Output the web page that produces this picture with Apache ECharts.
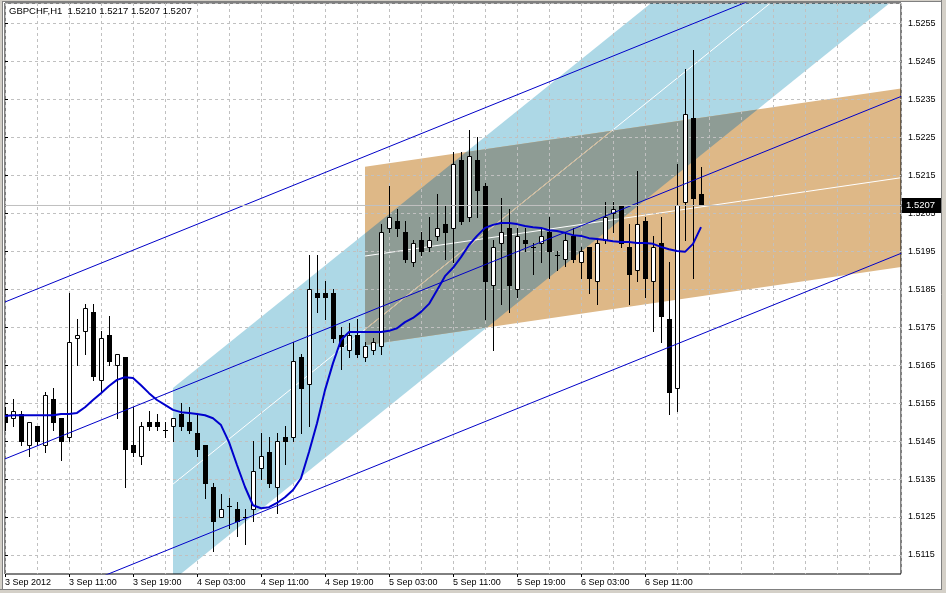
<!DOCTYPE html>
<html>
<head>
<meta charset="utf-8">
<script src="https://cdn.jsdelivr.net/npm/echarts@6.0.0/dist/echarts.min.js"></script>
<style>
html,body{margin:0;padding:0;background:#fff;}
#c{width:946px;height:593px;}
</style>
</head>
<body>
<div id="c"></div>
<script>
// ---- data ----
const symbol = 'GBPCHF';
const timeframe = 'H1';
const tickBars = [0, 8, 16, 24, 32, 40, 48, 56, 64, 72, 80];
const tickLabels = ['3 Sep 2012', '3 Sep 11:00', '3 Sep 19:00', '4 Sep 03:00', '4 Sep 11:00', '4 Sep 19:00',
  '5 Sep 03:00', '5 Sep 11:00', '5 Sep 19:00', '6 Sep 03:00', '6 Sep 11:00'];
const priceLevels = [1.5115, 1.5125, 1.5135, 1.5145, 1.5155, 1.5165, 1.5175, 1.5185, 1.5195, 1.5205,
  1.5215, 1.5225, 1.5235, 1.5245, 1.5255];

const open = [1.5152,1.5151,1.5152,1.5144,1.5149,1.5144,1.5156,1.5151,1.5146,1.5172,
  1.5174,1.5179,1.5161,1.5173,1.5165,1.5167,1.5144,1.5141,1.5150,1.5150,
  1.5148,1.5149,1.5152,1.5150,1.5147,1.5144,1.5133,1.5125,1.5128,1.5127,
  1.5125,1.5127,1.5138,1.5142,1.5133,1.5146,1.5146,1.5167,1.5160,1.5184,
  1.5184,1.5184,1.5173,1.5169,1.5173,1.5167,1.5169,1.5170,1.5201,1.5203,
  1.5200,1.5192,1.5198,1.5196,1.5199,1.5202,1.5201,1.5219,1.5204,1.5219,
  1.5212,1.5186,1.5197,1.5201,1.5185,1.5198,1.5196,1.5197,1.5200,1.5194,
  1.5193,1.5199,1.5192,1.5196,1.5187,1.5198,1.5205,1.5207,1.5196,1.5190,
  1.5203,1.5187,1.5197,1.5177,1.5159,1.5208,1.5230,1.5210];
const high = [1.5154,1.5156,1.5153,1.5150,1.5149,1.5158,1.5159,1.5151,1.5184,1.5177,
  1.5181,1.5181,1.5174,1.5178,1.5168,1.5167,1.5154,1.5150,1.5153,1.5152,
  1.5150,1.5151,1.5155,1.5154,1.5152,1.5144,1.5134,1.5131,1.5130,1.5129,
  1.5127,1.5145,1.5147,1.5146,1.5147,1.5149,1.5171,1.5168,1.5194,1.5194,
  1.5187,1.5185,1.5175,1.5176,1.5177,1.5171,1.5172,1.5202,1.5212,1.5206,
  1.5203,1.5198,1.5200,1.5204,1.5210,1.5207,1.5221,1.5221,1.5227,1.5225,
  1.5213,1.5198,1.5209,1.5206,1.5201,1.5201,1.5197,1.5201,1.5204,1.5195,
  1.5200,1.5201,1.5196,1.5196,1.5198,1.5208,1.5208,1.5207,1.5202,1.5216,
  1.5204,1.5199,1.5204,1.5192,1.5218,1.5243,1.5248,1.5217];
const low = [1.5148,1.5149,1.5144,1.5141,1.5144,1.5142,1.5148,1.5140,1.5145,1.5165,
  1.5168,1.5161,1.5158,1.5165,1.5151,1.5133,1.5141,1.5139,1.5148,1.5148,
  1.5146,1.5145,1.5148,1.5147,1.5141,1.5130,1.5116,1.5125,1.5122,1.5120,
  1.5118,1.5124,1.5135,1.5133,1.5126,1.5139,1.5145,1.5147,1.5149,1.5179,
  1.5177,1.5171,1.5164,1.5167,1.5167,1.5166,1.5168,1.5168,1.5200,1.5199,
  1.5192,1.5191,1.5194,1.5195,1.5198,1.5193,1.5192,1.5202,1.5203,1.5204,
  1.5177,1.5169,1.5181,1.5179,1.5183,1.5195,1.5189,1.5192,1.5188,1.5190,
  1.5191,1.5192,1.5188,1.5184,1.5181,1.5197,1.5200,1.5196,1.5181,1.5187,
  1.5183,1.5174,1.5171,1.5152,1.5153,1.5198,1.5188,1.5207];
const close = [1.5150,1.5153,1.5145,1.5150,1.5145,1.5157,1.5150,1.5145,1.5171,1.5173,
  1.5180,1.5162,1.5172,1.5166,1.5168,1.5143,1.5142,1.5149,1.5149,1.5149,
  1.5148,1.5151,1.5149,1.5148,1.5143,1.5134,1.5124,1.5127,1.5128,1.5124,
  1.5125,1.5137,1.5141,1.5134,1.5145,1.5145,1.5166,1.5159,1.5185,1.5183,
  1.5183,1.5172,1.5170,1.5173,1.5168,1.5170,1.5171,1.5200,1.5204,1.5201,
  1.5193,1.5197,1.5195,1.5198,1.5201,1.5200,1.5218,1.5203,1.5220,1.5211,
  1.5187,1.5196,1.5200,1.5186,1.5199,1.5197,1.5196,1.5199,1.5195,1.5194,
  1.5198,1.5193,1.5195,1.5188,1.5197,1.5204,1.5206,1.5197,1.5189,1.5202,
  1.5188,1.5196,1.5178,1.5158,1.5207,1.5231,1.5209,1.5207];
const maLine = [1.51516,1.51518,1.51518,1.51518,1.51518,1.51518,1.51518,1.51521,1.51521,1.51524,
  1.51539,1.51558,1.51576,1.51595,1.51611,1.51618,1.51616,1.51597,1.51576,1.51558,
  1.51545,1.51532,1.51526,1.51524,1.51521,1.51518,1.51510,1.51492,1.51447,1.51387,
  1.51329,1.51281,1.51273,1.51276,1.51287,1.51302,1.51321,1.51352,1.51421,1.51497,
  1.51584,1.51655,1.51716,1.51737,1.51737,1.51737,1.51737,1.51737,1.51740,1.51747,
  1.51763,1.51774,1.51790,1.51811,1.51847,1.51884,1.51906,1.51934,1.51966,1.51990,
  1.52011,1.52019,1.52024,1.52024,1.52021,1.52016,1.52013,1.52011,1.52005,1.52003,
  1.51998,1.51992,1.51990,1.51984,1.51982,1.51979,1.51976,1.51974,1.51974,1.51971,
  1.51971,1.51969,1.51961,1.51955,1.51950,1.51948,1.51969,1.52013];

// channel objects: bars (start, end), mid prices at those bars, half width in price
const lineChannelBars = [0, 112];
const lineChannelMid = [1.51403, 1.52357];
const lineChannelOffset = 0.00413;
const blueBandBars = [21, 112];
const blueBandMid = [1.513366, 1.528796];
const blueBandHalf = 0.002528;
const orangeBandBars = [45, 112];
const orangeBandMid = [1.519370, 1.521431];
const orangeBandHalf = 0.002349;

const yMin = 1.5110, yMax = 1.52603;
const xMin = 0, xMax = 112;

// ---- helpers ----
function fmt(v) { return v.toFixed(4); }
function orient(poly) {
  let a = 0;
  for (let i = 0; i < poly.length; i++) {
    const p = poly[i], q = poly[(i + 1) % poly.length];
    a += p[0] * q[1] - q[0] * p[1];
  }
  return a > 0 ? 1 : -1;
}
function clipPoly(subject, clip) {
  const s = orient(clip);
  let out = subject.slice();
  for (let i = 0; i < clip.length && out.length; i++) {
    const A = clip[i], B = clip[(i + 1) % clip.length];
    const f = p => s * ((B[0] - A[0]) * (p[1] - A[1]) - (B[1] - A[1]) * (p[0] - A[0]));
    const inp = out; out = [];
    for (let j = 0; j < inp.length; j++) {
      const P = inp[j], Q = inp[(j + 1) % inp.length];
      const fp = f(P), fq = f(Q);
      if (fp >= 0) {
        out.push(P);
        if (fq < 0) { const t = fp / (fp - fq); out.push([P[0] + t * (Q[0] - P[0]), P[1] + t * (Q[1] - P[1])]); }
      } else if (fq >= 0) {
        const t = fp / (fp - fq); out.push([P[0] + t * (Q[0] - P[0]), P[1] + t * (Q[1] - P[1])]);
      }
    }
  }
  return out;
}
function clipSeg(P, Q, clip) {
  const s = orient(clip);
  let t0 = 0, t1 = 1;
  for (let i = 0; i < clip.length; i++) {
    const A = clip[i], B = clip[(i + 1) % clip.length];
    const f = p => s * ((B[0] - A[0]) * (p[1] - A[1]) - (B[1] - A[1]) * (p[0] - A[0]));
    const fp = f(P), fq = f(Q);
    if (fp < 0 && fq < 0) return null;
    if (fp < 0) t0 = Math.max(t0, fp / (fp - fq));
    else if (fq < 0) t1 = Math.min(t1, fp / (fp - fq));
  }
  if (t0 >= t1) return null;
  return [[P[0] + t0 * (Q[0] - P[0]), P[1] + t0 * (Q[1] - P[1])], [P[0] + t1 * (Q[0] - P[0]), P[1] + t1 * (Q[1] - P[1])]];
}

const candleData = open.map((o, i) => [i, o, high[i], low[i], close[i]]);
const maData = maLine.map((v, i) => [i, v]);
const lastClose = close[close.length - 1];
const header = symbol + ',' + timeframe + '  ' + fmt(open[open.length - 1]) + ' ' + fmt(high[high.length - 1]) + ' ' +
  fmt(low[low.length - 1]) + ' ' + fmt(lastClose);

function lineSeries(offset) {
  return {
    type: 'line', xAxisIndex: 0, yAxisIndex: 0, z: 4, silent: true, symbol: 'none',
    lineStyle: { color: '#0000c8', width: 1 },
    data: [[lineChannelBars[0], lineChannelMid[0] + offset], [lineChannelBars[1], lineChannelMid[1] + offset]]
  };
}

const chart = echarts.init(document.getElementById('c'), null, { renderer: 'canvas' });
const FONT = "'Liberation Sans', Arial, sans-serif";

chart.setOption({
  animation: false,
  backgroundColor: '#ffffff',
  title: {
    text: header, left: 9, top: 6, padding: 0,
    textStyle: { fontSize: 9.5, fontWeight: 'normal', color: '#000', fontFamily: FONT }
  },
  grid: { left: 5, right: 45, top: 3, bottom: 19, show: true, borderColor: '#000', borderWidth: 1, backgroundColor: 'transparent' },
  xAxis: [{
    type: 'value', min: xMin, max: xMax, interval: 4,
    axisLine: { show: false }, axisTick: { show: false }, axisLabel: { show: false },
    splitLine: { show: true, lineStyle: { color: '#c0c0c0', type: [3, 3], width: 1 } }
  }, {
    type: 'value', min: xMin, max: xMax, interval: 8, position: 'bottom',
    axisLine: { show: false },
    axisTick: { show: true, length: 3, customValues: tickBars, lineStyle: { color: '#000' } },
    axisLabel: {
      show: true, customValues: tickBars, align: 'left', margin: 4, color: '#000', fontSize: 9, fontFamily: FONT,
      showMinLabel: true, showMaxLabel: true,
      formatter: v => { const i = tickBars.indexOf(Math.round(v)); return i >= 0 ? tickLabels[i] : ''; }
    },
    splitLine: { show: false }
  }],
  yAxis: [{
    type: 'value', position: 'right', min: yMin, max: yMax, interval: 0.0005,
    axisLine: { show: false }, axisTick: { show: false }, axisLabel: { show: false },
    splitLine: { show: true, lineStyle: { color: ['rgba(0,0,0,0)', '#c0c0c0'], type: [3, 3], width: 1 } }
  }, {
    type: 'value', position: 'right', min: yMin, max: yMax, interval: 0.0005,
    axisLine: { show: false },
    axisTick: { show: true, length: 3, customValues: priceLevels, lineStyle: { color: '#000' } },
    axisLabel: {
      show: true, customValues: priceLevels, margin: 7, color: '#000', fontSize: 9, fontFamily: FONT,
      formatter: v => (Math.round(v * 10000) % 10 === 5 ? fmt(v) : '')
    },
    splitLine: { show: false }
  }],
  series: [
    {
      // filled channels (background objects)
      type: 'custom', xAxisIndex: 0, yAxisIndex: 0, z: -1, silent: true, clip: true,
      data: [[blueBandBars[0], blueBandMid[0]]],
      encode: { x: 0, y: 1 },
      renderItem: (params, api) => {
        const bA = api.coord([blueBandBars[0], blueBandMid[0] + blueBandHalf]);
        const bB = api.coord([blueBandBars[1], blueBandMid[1] + blueBandHalf]);
        const bC = api.coord([blueBandBars[1], blueBandMid[1] - blueBandHalf]);
        const bD = api.coord([blueBandBars[0], blueBandMid[0] - blueBandHalf]);
        const oA = api.coord([orangeBandBars[0], orangeBandMid[0] + orangeBandHalf]);
        const oB = api.coord([orangeBandBars[1], orangeBandMid[1] + orangeBandHalf]);
        const oC = api.coord([orangeBandBars[1], orangeBandMid[1] - orangeBandHalf]);
        const oD = api.coord([orangeBandBars[0], orangeBandMid[0] - orangeBandHalf]);
        const blue = [bA, bB, bC, bD], orange = [oA, oB, oC, oD];
        const gray = clipPoly(orange, blue);
        const bm1 = api.coord([blueBandBars[0], blueBandMid[0]]);
        const bm2 = api.coord([blueBandBars[1], blueBandMid[1]]);
        const om1 = api.coord([orangeBandBars[0], orangeBandMid[0]]);
        const om2 = api.coord([orangeBandBars[1], orangeBandMid[1]]);
        const tanSeg = clipSeg(bm1, bm2, orange);
        const children = [
          { type: 'polygon', shape: { points: blue }, style: { fill: '#add8e6' } },
          { type: 'polygon', shape: { points: orange }, style: { fill: '#deb887' } }
        ];
        if (gray.length > 2) children.push({ type: 'polygon', shape: { points: gray }, style: { fill: '#8e9c95' } });
        children.push({ type: 'line', shape: { x1: bm1[0], y1: bm1[1], x2: bm2[0], y2: bm2[1] }, style: { stroke: '#ffffff', lineWidth: 1 } });
        if (tanSeg) children.push({ type: 'line', shape: { x1: tanSeg[0][0], y1: tanSeg[0][1], x2: tanSeg[1][0], y2: tanSeg[1][1] }, style: { stroke: '#d2b48c', lineWidth: 1 } });
        children.push({ type: 'line', shape: { x1: om1[0], y1: om1[1], x2: om2[0], y2: om2[1] }, style: { stroke: '#ffffff', lineWidth: 1 } });
        return { type: 'group', children };
      }
    },
    {
      // bid line
      type: 'line', xAxisIndex: 0, yAxisIndex: 0, z: 1, silent: true, symbol: 'none',
      lineStyle: { color: '#c0c0c0', width: 1 },
      data: [[xMin, lastClose], [xMax, lastClose]],
      markLine: {
        silent: true, symbol: 'none', animation: false, precision: 6,
        lineStyle: { color: '#c0c0c0', type: 'solid', width: 1 },
        label: {
          show: true, position: 'end', distance: 1, formatter: () => fmt(lastClose),
          backgroundColor: '#000', color: '#fff', fontSize: 9.5, fontFamily: FONT, padding: [3, 6, 2, 4]
        },
        data: [{ yAxis: lastClose }]
      }
    },
    {
      // candles
      type: 'custom', xAxisIndex: 0, yAxisIndex: 0, z: 3, silent: true, clip: true,
      data: candleData,
      encode: { x: 0, y: [1, 2, 3, 4] },
      renderItem: (params, api) => {
        const k = api.value(0), o = api.value(1), h = api.value(2), l = api.value(3), c = api.value(4);
        const pO = api.coord([k, o]), pH = api.coord([k, h]), pL = api.coord([k, l]), pC = api.coord([k, c]);
        const x = Math.round(pO[0]);
        const children = [{
          type: 'line', shape: { x1: x + 0.5, y1: Math.round(pH[1]), x2: x + 0.5, y2: Math.round(pL[1]) + 1 },
          style: { stroke: '#000', lineWidth: 1 }
        }];
        const top = Math.round(Math.min(pO[1], pC[1])), bot = Math.round(Math.max(pO[1], pC[1]));
        if (bot - top < 1) {
          children.push({ type: 'line', shape: { x1: x - 2, y1: top + 0.5, x2: x + 3, y2: top + 0.5 }, style: { stroke: '#000', lineWidth: 1 } });
        } else if (c > o) {
          children.push({ type: 'rect', shape: { x: x - 1.5, y: top + 0.5, width: 4, height: bot - top }, style: { fill: '#fff', stroke: '#000', lineWidth: 1 } });
        } else {
          children.push({ type: 'rect', shape: { x: x - 2, y: top, width: 5, height: bot - top + 1 }, style: { fill: '#000' } });
        }
        return { type: 'group', children };
      }
    },
    lineSeries(lineChannelOffset),
    lineSeries(0),
    lineSeries(-lineChannelOffset),
    {
      type: 'line', xAxisIndex: 0, yAxisIndex: 0, z: 5, silent: true, symbol: 'none',
      lineStyle: { color: '#0000cd', width: 2 },
      data: maData
    }
  ],
  graphic: [
    { type: 'rect', silent: true, z: 100, shape: { x: 0, y: 0, width: 3, height: 593 }, style: { fill: '#d4d0c8' } },
    { type: 'rect', silent: true, z: 100, shape: { x: 0, y: 0, width: 946, height: 2 }, style: { fill: '#d4d0c8' } },
    { type: 'rect', silent: true, z: 100, shape: { x: 941, y: 0, width: 5, height: 593 }, style: { fill: '#d4d0c8' } },
    { type: 'rect', silent: true, z: 100, shape: { x: 0, y: 589, width: 946, height: 4 }, style: { fill: '#d4d0c8' } },
    { type: 'line', silent: true, z: 101, shape: { x1: 2.5, y1: 1.5, x2: 2.5, y2: 589 }, style: { stroke: '#808080', lineWidth: 1 } },
    { type: 'line', silent: true, z: 101, shape: { x1: 2, y1: 1.5, x2: 942, y2: 1.5 }, style: { stroke: '#808080', lineWidth: 1 } },
    { type: 'line', silent: true, z: 101, shape: { x1: 941.5, y1: 0, x2: 941.5, y2: 589 }, style: { stroke: '#808080', lineWidth: 1 } },
    { type: 'line', silent: true, z: 101, shape: { x1: 0, y1: 589.5, x2: 942, y2: 589.5 }, style: { stroke: '#808080', lineWidth: 1 } }
  ]
});
</script>
</body>
</html>
